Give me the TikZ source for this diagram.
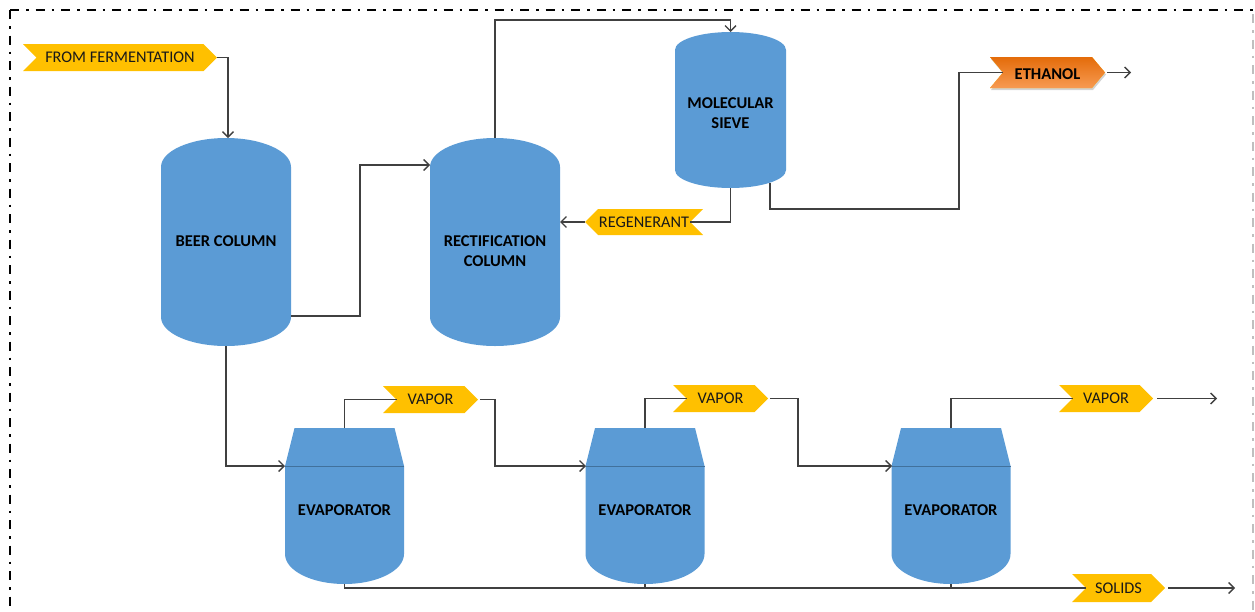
\documentclass[tikz,border=0pt]{standalone}
\usepackage{fontspec}
\setmainfont{Carlito}
\usetikzlibrary{shapes.symbols,arrows.meta,shadows,calc}

\definecolor{tankblue}{HTML}{5B9BD5}
\definecolor{tankedge}{HTML}{41719C}
\definecolor{taggold}{HTML}{FFC000}
\definecolor{orangetop}{HTML}{E46C0A}
\definecolor{orangebot}{HTML}{F79A52}
\definecolor{pipe}{HTML}{404040}

% vertical vessel with rounded top and bottom: x0, x1, top, bottom, cap radius
\newcommand\drawtank[5]{%
  \fill[tankblue] (#1,#3+#5) arc[start angle=180,end angle=0,x radius={(#2-#1)/2*1pt},y radius=#5pt]
    -- (#2,#4-#5) arc[start angle=0,end angle=-180,x radius={(#2-#1)/2*1pt},y radius=#5pt] -- cycle;}
% evaporator body centred on x = #1
\newcommand\drawevap[1]{%
  \fill[tankblue] (#1-50,428) -- (#1+50,428) -- (#1+59.5,466) -- (#1+59.5,554)
    arc[start angle=0,end angle=-180,x radius=59.5pt,y radius=30pt] -- (#1-59.5,466) -- cycle;
  \draw[tankedge, line width=0.8pt] (#1-59.5,466) -- (#1+59.5,466);}

\tikzset{
  unit/.style={inner sep=0pt, outer sep=0pt},
  vtext/.style={inner sep=0pt, align=center, font=\fontsize{16.5}{20}\selectfont\bfseries, text=black},
  tagbase/.style={signal, signal pointer angle=90, fill=taggold, inner sep=0pt, outer sep=0pt,
    minimum height=27pt, font=\fontsize{16.3}{20}\selectfont, text=black!90},
  tag/.style={tagbase, signal to=east, signal from=west},
  tagleft/.style={tagbase, signal to=west, signal from=east},
  pipeline/.style={draw=pipe, line width=1.3pt},
  flow/.style={pipeline, -{Straight Barb[length=5.5pt,width=11pt]}},
  border/.style={line width=2pt, dash pattern=on 9pt off 7pt on 2.5pt off 7pt},
}

\begin{document}
\begin{tikzpicture}[x=1pt,y=-1pt]
\useasboundingbox (0,0) rectangle (1255,611);

% frame
\draw[border] (10,10) -- (1256,10);
\draw[border] (10,10) -- (10,615);
\draw[border, draw=black!25, line width=1.5pt] (1253,14) -- (1253,615);

% vessels
\drawtank{161}{291}{138}{346}{29}
\drawtank{430}{560}{138}{346}{29}
\drawtank{675}{786}{32}{188}{18}
\drawevap{344.5}
\drawevap{645}
\drawevap{951}

% vessel outlines (invisible) carrying their labels
\node[unit, minimum width=130pt, minimum height=208pt,
  label={[vtext, yshift=1pt]center:BEER COLUMN}] (beer) at (226,242) {};
\node[unit, minimum width=130pt, minimum height=208pt,
  label={[vtext, yshift=-9pt]center:RECTIFICATION\\COLUMN}] (rect) at (495,242) {};
\node[unit, minimum width=111pt, minimum height=156pt,
  label={[vtext, yshift=-3pt]center:MOLECULAR\\SIEVE}] (sieve) at (730.5,110) {};
\node[unit, minimum width=119pt, minimum height=156pt,
  label={[vtext, yshift=-4pt]center:EVAPORATOR}] (evap1) at (344.5,506) {};
\node[unit, minimum width=118pt, minimum height=156pt,
  label={[vtext, yshift=-4pt]center:EVAPORATOR}] (evap2) at (645,506) {};
\node[unit, minimum width=118pt, minimum height=156pt,
  label={[vtext, yshift=-4pt]center:EVAPORATOR}] (evap3) at (951,506) {};

% stream tags
\node[tag, minimum width=194pt] (ferm) at (120,57.5) {FROM FERMENTATION};
\node[tagleft, minimum width=118pt, minimum height=26pt] (regen) at (644,222) {REGENERANT};
\node[tag, signal pointer angle=100, minimum width=115pt, minimum height=31pt,
  top color=orangetop, bottom color=orangebot, text=black, font=\fontsize{16.5}{20}\selectfont\bfseries,
  text height=14.6pt, text depth=0pt,
  drop shadow={opacity=0.35, shadow xshift=1pt, shadow yshift=-2pt}] (eth) at (1047.5,72.5) {ETHANOL};
\node[tag, minimum width=95pt] (vap1) at (430.5,399.5) {VAPOR};
\node[tag, minimum width=95pt] (vap2) at (720.5,398.5) {VAPOR};
\node[tag, minimum width=94pt] (vap3) at (1106,398.5) {VAPOR};
\node[tag, minimum width=93pt, minimum height=28pt] (solids) at (1118.5,588) {SOLIDS};

% connections
\draw[flow] (ferm.east) -| ([xshift=2pt]beer.north);
\draw[flow] ([yshift=30pt]beer.south east) -- ++(69,0) |- ([yshift=-27pt]rect.north west);
\draw[flow] (rect.north) -- ++(0,-118) -| (sieve.north);
\draw[pipeline] (sieve.south) |- (regen.east);
\draw[flow] (regen.west) -- (regen.west -| rect.east);
\draw[pipeline] ([xshift=39.5pt,yshift=5pt]sieve.south) -- ++(0,26) -- ++(189,0) |- (eth.west);
\draw[flow] ([xshift=2pt]eth.east) -- ++(24,0);
\draw[flow] (beer.south) |- ([yshift=40pt]evap1.west);
\draw[pipeline] (evap1.north) |- (vap1.west);
\draw[flow] ([xshift=2pt]vap1.east) -- ++(15,0) |- ([yshift=40pt]evap2.west);
\draw[pipeline] (evap2.north) |- (vap2.west);
\draw[flow] ([xshift=2pt]vap2.east) -- ++(28,0) |- ([yshift=40pt]evap3.west);
\draw[pipeline] (evap3.north) |- (vap3.west);
\draw[flow] ([xshift=4pt]vap3.east) -- ++(60,0);
\draw[pipeline] (evap1.south) |- (solids.west);
\draw[pipeline] (evap2.south) -- (evap2.south |- solids.west);
\draw[pipeline] (evap3.south) -- (evap3.south |- solids.west);
\draw[flow] ([xshift=3pt]solids.east) -- ++(67,0);
\end{tikzpicture}
\end{document}
